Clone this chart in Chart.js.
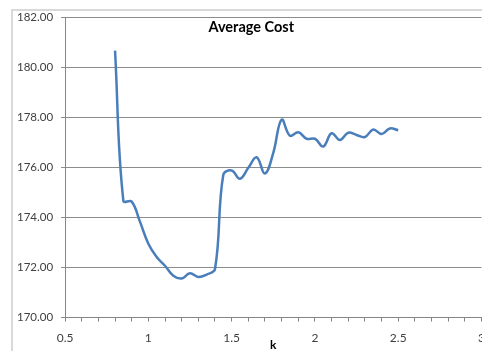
<!DOCTYPE html>
<html>
<head>
<meta charset="utf-8">
<script src="https://cdn.jsdelivr.net/npm/chart.js@4.4.1/dist/chart.umd.min.js"></script>
<style>
  html, body { margin: 0; padding: 0; background: #fff; overflow: hidden; }
  #wrap { position: relative; width: 482px; height: 351px; overflow: hidden; }
</style>
</head>
<body>
<div id="wrap"><canvas id="costChart" width="494" height="351"></canvas></div>
<script>
// k values and average cost
const kValues = [0.8, 0.85, 0.9, 0.95, 1.0, 1.05, 1.1, 1.15, 1.2, 1.25, 1.3, 1.35, 1.4, 1.45,
  1.5, 1.55, 1.6, 1.65, 1.7, 1.75, 1.8, 1.85, 1.9, 1.95, 2.0, 2.05, 2.1, 2.15, 2.2, 2.25,
  2.3, 2.35, 2.4, 2.45, 2.5];
const avgCost = [180.66, 174.66, 174.63, 173.82, 172.95, 172.42, 172.07, 171.67, 171.56, 171.77,
  171.62, 171.72, 171.94, 175.70, 175.87, 175.54, 175.98, 176.40, 175.75, 176.58,
  177.90, 177.26, 177.40, 177.14, 177.14, 176.83, 177.36, 177.09, 177.38, 177.29,
  177.21, 177.51, 177.33, 177.55, 177.48];

const chartTitle = "Average Cost";
const xTitle = "k";
const xMin = 0.5, xMax = 3, xMajor = 0.5, xMinor = 0.1;
const yMin = 170, yMax = 182, yStep = 2;

const points = kValues.map((k, i) => ({ x: k, y: avgCost[i] }));

// frame + title inside the plot area + axis title, like the Excel chart
// (canvas is a bit wider than the window so the plot runs to the right edge, as in the original)
const excelBits = {
  id: "excelBits",
  beforeDraw(chart) {
    const c = chart.ctx;
    c.save();
    c.strokeStyle = "#d9d9d9";
    c.lineWidth = 2;
    c.beginPath();
    c.moveTo(12, 352);
    c.lineTo(12, 10);
    c.lineTo(chart.width + 1, 10);
    c.stroke();
    c.restore();
  },
  afterDraw(chart) {
    const c = chart.ctx;
    const a = chart.chartArea;
    c.save();
    c.fillStyle = "#000";
    c.textAlign = "center";
    c.textBaseline = "middle";
    c.font = "bold 14.5px Lato";
    c.fillText(chartTitle, (a.left + a.right) / 2 - 22, a.top + 10);
    c.font = "bold 12px Lato";
    c.fillText(xTitle, (a.left + a.right) / 2, 345);
    c.restore();
  }
};

const ctx = document.getElementById("costChart").getContext("2d");
new Chart(ctx, {
  type: "line",
  data: {
    datasets: [{
      label: chartTitle,
      data: points,
      borderColor: "#4a7ebb",
      borderWidth: 2.5,
      pointRadius: 0,
      tension: 0.4,
      fill: false
    }]
  },
  options: {
    responsive: false,
    animation: false,
    layout: {
      autoPadding: false,
      padding: { left: 9, right: 0, top: 17, bottom: -3 }
    },
    plugins: {
      legend: { display: false },
      title: { display: false },
      tooltip: { enabled: false }
    },
    scales: {
      x: {
        type: "linear",
        min: xMin,
        max: xMax,
        afterBuildTicks(scale) {
          const t = [];
          for (let i = 0; i <= Math.round((xMax - xMin) / xMinor); i++) {
            t.push({ value: +(xMin + i * xMinor).toFixed(2) });
          }
          scale.ticks = t;
        },
        ticks: {
          autoSkip: false,
          maxRotation: 0,
          padding: 9,
          color: "#404040",
          font: { family: "Lato", size: 12 },
          callback: (v) => {
            const r = v / xMajor;
            return Math.abs(r - Math.round(r)) < 1e-6 ? String(+v.toFixed(1)) : "";
          }
        },
        grid: { drawOnChartArea: false, color: "#868686", tickLength: 4 },
        border: { color: "#868686" }
      },
      y: {
        min: yMin,
        max: yMax,
        ticks: {
          stepSize: yStep,
          padding: 8,
          color: "#404040",
          font: { family: "Lato", size: 11.5 },
          callback: (v) => v.toFixed(2)
        },
        grid: { color: "#8c8c8c", tickLength: 4 },
        border: { color: "#868686" }
      }
    }
  },
  plugins: [excelBits]
});
</script>
</body>
</html>
